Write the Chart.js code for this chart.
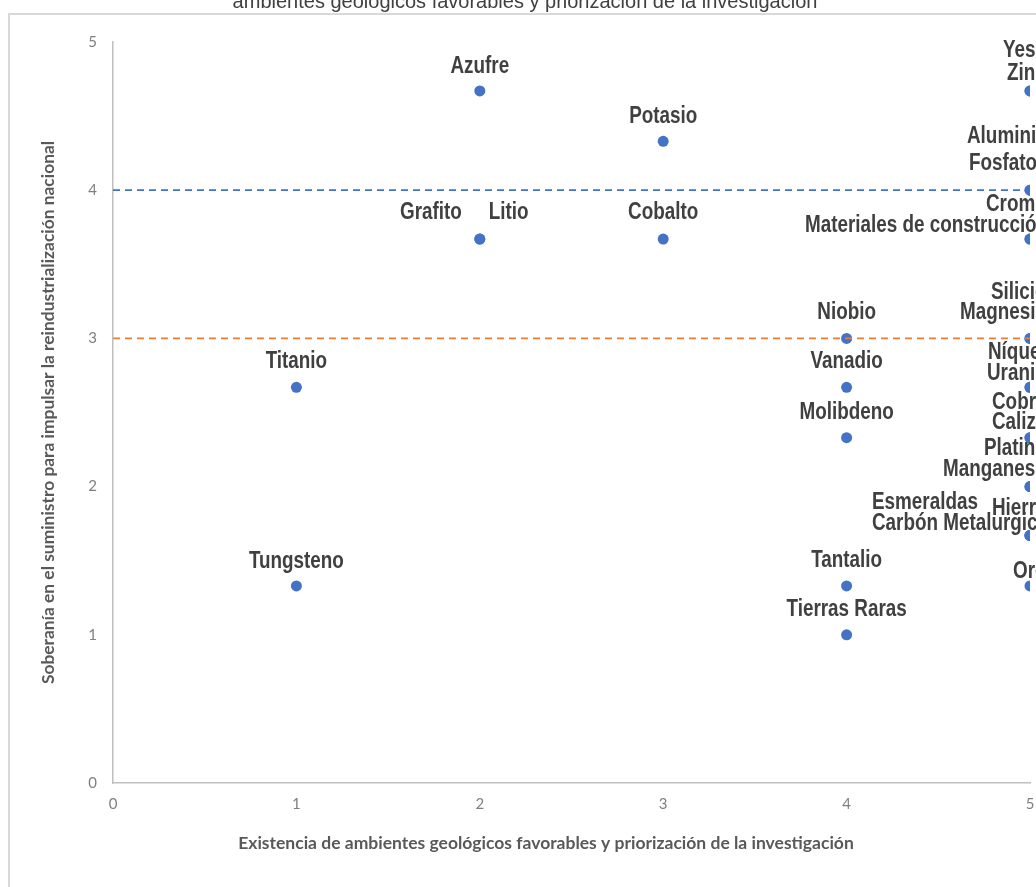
<!DOCTYPE html>
<html lang="es">
<head>
<meta charset="UTF-8">
<title>Minerales</title>
<script src="https://cdn.jsdelivr.net/npm/chart.js"></script>
<style>
  html, body { margin: 0; padding: 0; background: #fff; }
  canvas { display: block; }
</style>
</head>
<body>
<canvas id="chart" width="1036" height="887"></canvas>
<script>
const chartTitle = 'ambientes geológicos favorables y priorización de la investigación';
const xTitle = 'Existencia de ambientes geológicos favorables y priorización de la investigación';
const yTitle = 'Soberanía en el suministro para impulsar la reindustrialización nacional';

const minerals = [
  'Azufre', 'Potasio', 'Grafito', 'Litio', 'Cobalto', 'Titanio', 'Tungsteno',
  'Niobio', 'Vanadio', 'Molibdeno', 'Tantalio', 'Tierras Raras',
  'Yeso', 'Zinc', 'Aluminio', 'Fosfato', 'Cromo', 'Materiales de construcción',
  'Silicio', 'Magnesio', 'Níquel', 'Uranio', 'Cobre', 'Caliza', 'Platino',
  'Manganeso', 'Esmeraldas', 'Carbón Metalurgico', 'Hierro', 'Oro'
];
const geoScore = [
  2, 3, 2, 2, 3, 1, 1,
  4, 4, 4, 4, 4,
  5, 5, 5, 5, 5, 5,
  5, 5, 5, 5, 5, 5, 5,
  5, 5, 5, 5, 5
];
const supplyScore = [
  4.67, 4.33, 3.67, 3.67, 3.67, 2.67, 1.33,
  3, 2.67, 2.33, 1.33, 1,
  4.67, 4.67, 4, 4, 3.67, 3.67,
  3, 3, 2.67, 2.67, 2.33, 2.33, 2,
  2, 1.67, 1.67, 1.67, 1.33
];
const tickValues = [0, 1, 2, 3, 4, 5];
const upperLine = 4;
const lowerLine = 3;

// where each label sits relative to its point: align, dx, dy (baseline)
const labelPlace = [
  ['center', 0, -18], ['center', 0, -18], ['right', -18, -20], ['left', 9, -20],
  ['center', 0, -20], ['center', 0, -19], ['center', 0, -18],
  ['center', 0, -19], ['center', 0, -19], ['center', 0, -19], ['center', 0, -19], ['center', 0, -19],
  ['left', -27, -34], ['left', -23, -11], ['left', -63, -47], ['left', -61, -20],
  ['left', -44, -28], ['left', -225, -7],
  ['left', -39, -39], ['left', -70, -19], ['left', -42, -28], ['left', -43, -7],
  ['left', -38, -29], ['left', -38, -9], ['left', -46, -32],
  ['left', -87, -11], ['left', -158, -27], ['left', -158, -6], ['left', -38, -21], ['left', -17, -8]
];

const points = minerals.map((m, i) => ({ x: geoScore[i], y: supplyScore[i] }));

const framePlugin = {
  id: 'frame',
  beforeDraw(chart) {
    const ctx = chart.ctx;
    ctx.save();
    ctx.fillStyle = '#ffffff';
    ctx.fillRect(0, 0, chart.width, chart.height);
    ctx.strokeStyle = '#d9d9d9';
    ctx.lineWidth = 2;
    ctx.beginPath();
    ctx.moveTo(9, chart.height);
    ctx.lineTo(9, 14);
    ctx.lineTo(chart.width, 14);
    ctx.stroke();
    ctx.fillStyle = '#404040';
    ctx.font = '20px "Liberation Sans", Arial, sans-serif';
    ctx.textAlign = 'center';
    ctx.textBaseline = 'alphabetic';
    ctx.fillText(chartTitle, 525, 8);
    // x axis title sits a little left of the plot centre
    ctx.fillStyle = '#595959';
    ctx.font = 'bold 17.5px Lato, sans-serif';
    ctx.textBaseline = 'middle';
    ctx.fillText(xTitle, 546, 843);
    ctx.restore();
  }
};

const labelPlugin = {
  id: 'pointLabels',
  afterDatasetsDraw(chart) {
    const ctx = chart.ctx;
    const meta = chart.getDatasetMeta(2);
    ctx.save();
    ctx.fillStyle = '#404040';
    ctx.font = 'bold 23px "Liberation Sans", Arial, sans-serif';
    ctx.textBaseline = 'alphabetic';
    meta.data.forEach((pt, i) => {
      const [align, dx, dy] = labelPlace[i];
      ctx.save();
      ctx.translate(pt.x + dx, pt.y + dy);
      ctx.scale(0.82, 1);
      ctx.textAlign = align;
      ctx.fillText(minerals[i], 0, 0);
      ctx.restore();
    });
    ctx.restore();
  }
};

new Chart(document.getElementById('chart'), {
  type: 'scatter',
  data: {
    datasets: [
      {
        type: 'line',
        data: [{ x: 0, y: upperLine }, { x: 5, y: upperLine }],
        borderColor: '#4472C4',
        borderWidth: 1.75,
        borderDash: [7, 5],
        pointRadius: 0,
        fill: false
      },
      {
        type: 'line',
        data: [{ x: 0, y: lowerLine }, { x: 5, y: lowerLine }],
        borderColor: '#ED7D31',
        borderWidth: 1.75,
        borderDash: [7, 5],
        pointRadius: 0,
        fill: false
      },
      {
        data: points,
        backgroundColor: '#4472C4',
        borderColor: '#4472C4',
        pointRadius: 5.5,
        borderWidth: 0
      }
    ]
  },
  options: {
    responsive: false,
    animation: false,
    layout: { padding: { left: 0, right: 6, top: 42, bottom: 0 } },
    plugins: {
      legend: { display: false },
      tooltip: { enabled: false },
      title: { display: false }
    },
    scales: {
      x: {
        type: 'linear',
        min: 0,
        max: 5,
        afterBuildTicks: (s) => { s.ticks = tickValues.map(v => ({ value: v })); },
        afterFit: (s) => { s.height = 104; s.paddingRight = 0; s.paddingLeft = 0; },
        grid: { display: false },
        border: { display: true, color: '#bfbfbf', width: 1.5 },
        ticks: { color: '#7f7f7f', padding: 4, font: { family: 'Lato, sans-serif', size: 15 } },
        title: { display: false, text: xTitle }
      },
      y: {
        type: 'linear',
        min: 0,
        max: 5,
        afterBuildTicks: (s) => { s.ticks = tickValues.map(v => ({ value: v })); },
        afterFit: (s) => { s.width = 113; },
        grid: { display: false },
        border: { display: true, color: '#bfbfbf', width: 1.5 },
        ticks: { color: '#7f7f7f', padding: 8, font: { family: 'Lato, sans-serif', size: 15 } },
        title: {
          display: true,
          text: yTitle,
          color: '#595959',
          font: { family: 'Lato, sans-serif', size: 17.4, weight: 'bold' },
          padding: { top: 38, bottom: 0 }
        }
      }
    }
  },
  plugins: [framePlugin, labelPlugin]
});
</script>
</body>
</html>
